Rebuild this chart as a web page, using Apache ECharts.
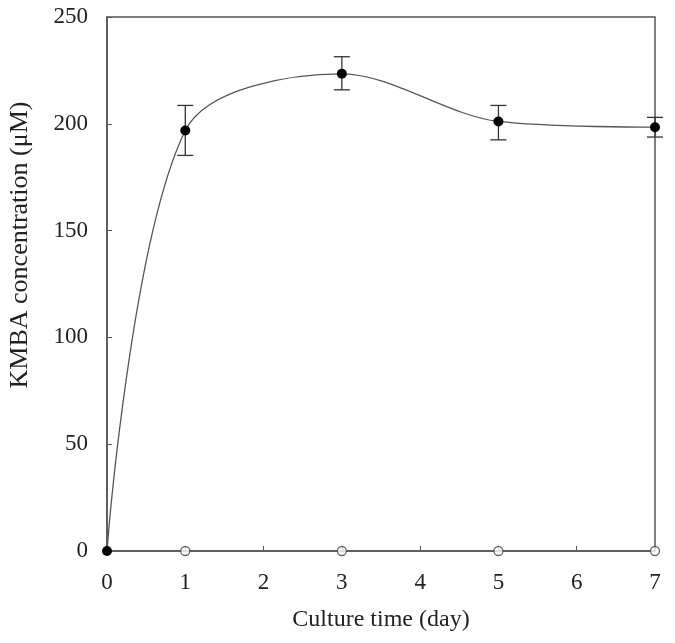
<!DOCTYPE html>
<html>
<head>
<meta charset="utf-8">
<script src="https://cdn.jsdelivr.net/npm/echarts@6/dist/echarts.min.js"></script>
<style>
    html, body {margin: 0; padding: 0; background: #fff;}
    #chart {width: 675px; height: 643px;}
</style>
</head>
<body>
<div id="chart"></div>
<script>
'use strict';
// culture time (day) and KMBA concentration (uM)
var days = [0, 1, 3, 5, 7];
var kmba = [0, 196.9, 223.4, 201.1, 198.4];
var errLow = [0, 185.2, 215.9, 192.5, 193.8];
var errHigh = [0, 208.6, 231.4, 208.6, 203.0];
// control (open markers on the baseline)
var ctrlDays = [1, 3, 5, 7];
var ctrlVals = [0, 0, 0, 0];
var xTicks = [0, 1, 2, 3, 4, 5, 6, 7];
var yTicks = [0, 50, 100, 150, 200, 250];

var chart = echarts.init(document.getElementById('chart'));
var font = '"Liberation Serif", "Times New Roman", serif';

var mainData = [];
for (var i = 0; i < days.length; i++) {
    mainData.push([days[i], kmba[i]]);
}
var errData = [];
for (var j = 0; j < days.length; j++) {
    if (errHigh[j] > errLow[j]) {
        errData.push([days[j], errLow[j], errHigh[j]]);
    }
}
var ctrlData = [];
for (var k = 0; k < ctrlDays.length; k++) {
    ctrlData.push([ctrlDays[k], ctrlVals[k]]);
}

var option = {
    backgroundColor: '#fff',
    animation: false,
    grid: {
        left: 107,
        right: 20,
        top: 17,
        bottom: 92,
        outerBoundsMode: 'none',
        show: true,
        borderColor: '#555',
        borderWidth: 1.5
    },
    xAxis: {
        type: 'value',
        min: xTicks[0],
        max: xTicks[xTicks.length - 1],
        interval: 1,
        name: 'Culture time (day)',
        nameLocation: 'middle',
        nameGap: 57,
        nameTextStyle: {fontFamily: font, fontSize: 24, color: '#222'},
        axisLine: {lineStyle: {color: '#555', width: 1.5}},
        axisTick: {inside: true, length: 5, lineStyle: {color: '#555'}},
        axisLabel: {fontFamily: font, fontSize: 23, color: '#222', margin: 20},
        splitLine: {show: false}
    },
    yAxis: {
        type: 'value',
        min: yTicks[0],
        max: yTicks[yTicks.length - 1],
        interval: 50,
        name: 'KMBA concentration (\u03bcM)',
        nameLocation: 'middle',
        nameGap: 74,
        nameTextStyle: {
            fontFamily: font,
            fontSize: 26,
            color: '#222',
            padding: [0, 0, 0, 78]
        },
        axisLine: {lineStyle: {color: '#555', width: 1.5}},
        axisTick: {inside: true, length: 5, lineStyle: {color: '#555'}},
        axisLabel: {fontFamily: font, fontSize: 23, color: '#222', margin: 19},
        splitLine: {show: false}
    },
    series: [
        {
            name: 'KMBA',
            type: 'line',
            data: mainData,
            smooth: 0.32,
            symbol: 'circle',
            symbolSize: 10,
            itemStyle: {color: '#000'},
            lineStyle: {color: '#555', width: 1.3},
            z: 3
        },
        {
            name: 'error',
            type: 'custom',
            data: errData,
            renderItem: function (params, api) {
                var x = api.value(0);
                var lo = api.coord([x, api.value(1)]);
                var hi = api.coord([x, api.value(2)]);
                var half = 8;
                var style = {stroke: '#333', lineWidth: 1.3};
                return {
                    type: 'group',
                    children: [
                        {type: 'line', shape: {x1: hi[0], y1: hi[1], x2: lo[0], y2: lo[1]}, style: style},
                        {type: 'line', shape: {x1: hi[0] - half, y1: hi[1], x2: hi[0] + half, y2: hi[1]}, style: style},
                        {type: 'line', shape: {x1: lo[0] - half, y1: lo[1], x2: lo[0] + half, y2: lo[1]}, style: style}
                    ]
                };
            },
            z: 2
        },
        {
            name: 'control',
            type: 'scatter',
            data: ctrlData,
            symbol: 'circle',
            symbolSize: 9,
            itemStyle: {color: '#fff', borderColor: '#444', borderWidth: 1.3},
            z: 4
        }
    ]
};
chart.setOption(option);
</script>
</body>
</html>
